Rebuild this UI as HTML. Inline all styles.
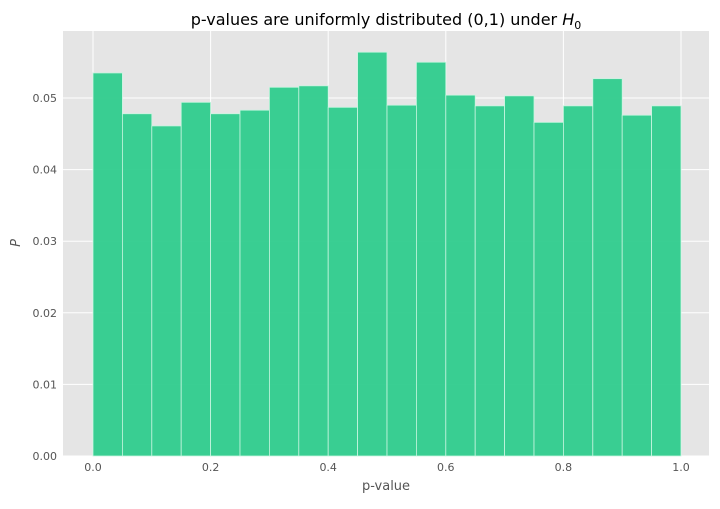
<!DOCTYPE html>
<html><head><meta charset="utf-8"><style>
body{margin:0;background:#fff;}
svg{font-family:"DejaVu Sans","Liberation Sans",sans-serif;}
</style></head><body>
<svg id="chart" width="720" height="504" xmlns="http://www.w3.org/2000/svg">
<rect x="0" y="0" width="720" height="504" fill="#fff"/>
<rect x="63" y="31" width="646" height="425" fill="#e5e5e5"/>
<g id="grid"></g>
<g id="bars"></g>
<g id="ticks"></g>
<text x="386" y="25" text-anchor="middle" font-size="16" fill="#000">p-values are uniformly distributed (0,1) under <tspan font-style="italic">H</tspan><tspan font-size="11" dy="4">0</tspan></text>
<text x="386" y="490" text-anchor="middle" font-size="13" fill="#555">p-value</text>
<text x="20" y="243" text-anchor="middle" font-size="13" font-style="italic" fill="#555" transform="rotate(-90 20 243)">P</text>
</svg>
<script>
const binStarts=[0,0.05,0.1,0.15,0.2,0.25,0.3,0.35,0.4,0.45,0.5,0.55,0.6,0.65,0.7,0.75,0.8,0.85,0.9,0.95];
const binWidth=0.05;
const probs=[0.0535,0.0478,0.0461,0.0494,0.0478,0.0483,0.0515,0.0517,0.0487,0.0564,0.0490,0.0550,0.0504,0.0489,0.0503,0.0466,0.0489,0.0527,0.0476,0.0489];
const xTicks=[0,0.2,0.4,0.6,0.8,1.0];
const xTickLabels=["0.0","0.2","0.4","0.6","0.8","1.0"];
const yTicks=[0,0.01,0.02,0.03,0.04,0.05];
const yTickLabels=["0.00","0.01","0.02","0.03","0.04","0.05"];
const NS="http://www.w3.org/2000/svg";
function xs(v){return 93+v*588;}
function ys(v){return 456-v*7160;}
function mk(tag,attrs,parent){const e=document.createElementNS(NS,tag);for(const k in attrs)e.setAttribute(k,attrs[k]);document.getElementById(parent).appendChild(e);return e;}
xTicks.forEach((t,i)=>{
  const g=mk('line',{x1:xs(t),x2:xs(t),y1:31,y2:456,stroke:'#fff','stroke-width':1},'grid');
  
  
  const l=mk('text',{x:xs(t),y:471,'text-anchor':'middle','font-size':11,fill:'#555'},'ticks');
  l.textContent=xTickLabels[i];
  
  
});
yTicks.forEach((t,i)=>{
  const g=mk('line',{x1:63,x2:709,y1:ys(t),y2:ys(t),stroke:'#fff','stroke-width':1},'grid');
  
  
  const l=mk('text',{x:57,y:ys(t)+4,'text-anchor':'end','font-size':11,fill:'#555'},'ticks');
  l.textContent=yTickLabels[i];
  
  
});
binStarts.forEach((b,i)=>{
  const x0=xs(b),x1=xs(b+binWidth),y=ys(probs[i]);
  const r=mk('rect',{x:x0,y:y,width:x1-x0,height:456-y,fill:'#2fcc8d','fill-opacity':0.95,stroke:'#c8f5e0','stroke-width':0.8},'bars');
  
  
});
</script>
</body></html>
